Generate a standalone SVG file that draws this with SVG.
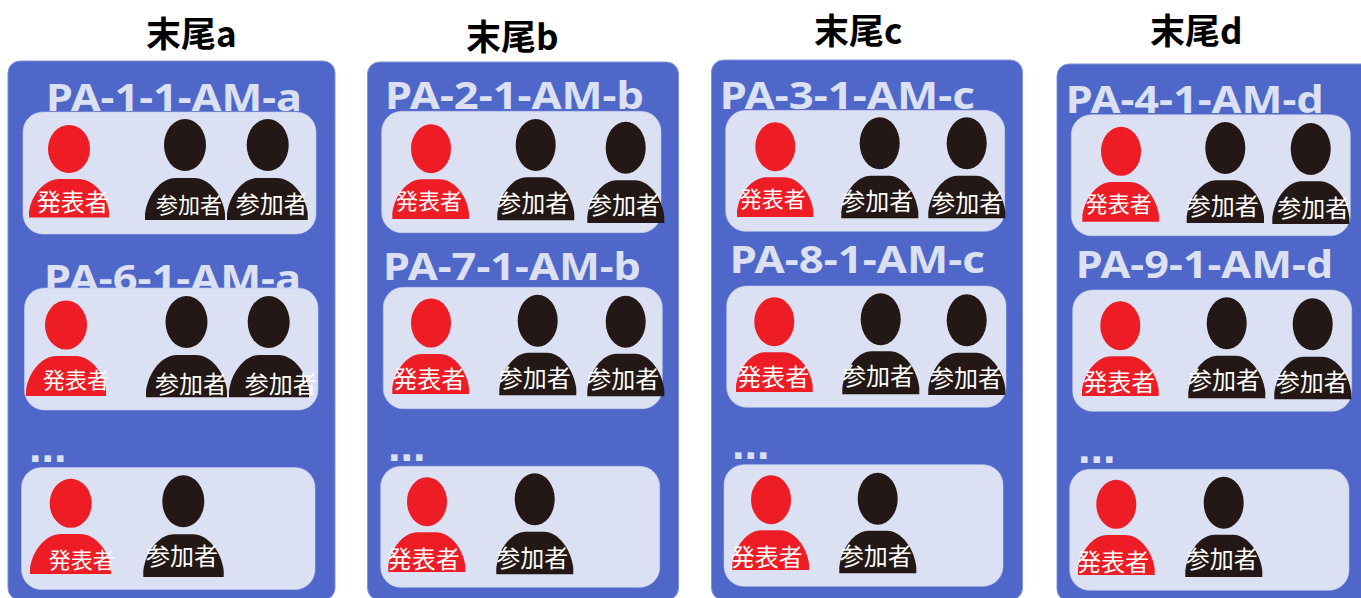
<svg xmlns="http://www.w3.org/2000/svg" width="1361" height="598" viewBox="0 0 1361 598">
<style>
.panel{fill:#4f67c8;stroke:#7f93d8;stroke-width:1}
.card{fill:#dbe0f3;stroke:#c3cdec;stroke-width:.6}
.title{font:700 35px "Noto Sans CJK JP","Noto Sans",sans-serif;fill:#000}
.label{font:700 38px "Noto Sans","Noto Sans CJK JP",sans-serif;fill:#dbe0f3}
.dots{font:700 45px "Liberation Sans",sans-serif;fill:#dbe0f3}
.r{fill:#ee1c25}
.k{fill:#231815}
.t{font:400 24px "Noto Sans CJK JP",sans-serif;fill:#fff;text-anchor:middle}
.s{font-size:22px}
</style>
<defs>
<path id="body" d="M0 100V85C3 40 20 0 38 0H62C80 0 97 40 100 85V100Z"/>
</defs>
<g id="col-a">
<text class="title" x="146" y="47">末尾a</text>
<rect class="panel" x="8" y="61" width="327" height="539" rx="12"/>
<text class="label" x="46" y="111" textLength="256" lengthAdjust="spacingAndGlyphs">PA-1-1-AM-a</text>
<text class="label" x="44" y="292" textLength="257" lengthAdjust="spacingAndGlyphs">PA-6-1-AM-a</text>
<text class="dots" x="29" y="462">...</text>
<rect class="card" x="23" y="112" width="293" height="122" rx="20"/>
<rect class="card" x="24.5" y="288" width="293.5" height="122" rx="20"/>
<rect class="card" x="21.5" y="467.5" width="293.5" height="122" rx="20"/>
<g id="a1-r" class="r"><ellipse cx="69" cy="149" rx="21" ry="24"/><use href="#body" transform="translate(29 179) scale(.8 .385)"/><text class="t" x="72.7" y="211">発表者</text></g>
<g id="a1-k1" class="k"><ellipse cx="185" cy="145" rx="21" ry="26"/><use href="#body" transform="translate(145 178) scale(.8 .42)"/><text class="t s" x="189" y="213">参加者</text></g>
<g id="a1-k2" class="k"><ellipse cx="267.7" cy="145" rx="21" ry="26"/><use href="#body" transform="translate(227 178) scale(.807 .42)"/><text class="t" x="271.7" y="213">参加者</text></g>
<g id="a2-r" class="r"><ellipse cx="66" cy="325" rx="21" ry="24.5"/><use href="#body" transform="translate(26 356) scale(.8 .4)"/><text class="t s" x="76" y="388">発表者</text></g>
<g id="a2-k1" class="k"><ellipse cx="186.5" cy="322" rx="21" ry="26"/><use href="#body" transform="translate(146 355) scale(.81 .423)"/><text class="t" x="191" y="393">参加者</text></g>
<g id="a2-k2" class="k"><ellipse cx="268.7" cy="322" rx="21" ry="26"/><use href="#body" transform="translate(229 355) scale(.8 .423)"/><text class="t" x="280.7" y="393">参加者</text></g>
<g id="a3-r" class="r"><ellipse cx="70.7" cy="503.3" rx="21" ry="24.5"/><use href="#body" transform="translate(30 534) scale(.81 .4)"/><text class="t s" x="81.7" y="568">発表者</text></g>
<g id="a3-k" class="k"><ellipse cx="183.3" cy="501.3" rx="21" ry="26"/><use href="#body" transform="translate(143.3 534.3) scale(.804 .427)"/><text class="t" x="182" y="564.5">参加者</text></g>
</g>
<g id="col-b">
<text class="title" x="466" y="50">末尾b</text>
<rect class="panel" x="367.5" y="62" width="311" height="538" rx="12"/>
<text class="label" x="385" y="109" textLength="259" lengthAdjust="spacingAndGlyphs">PA-2-1-AM-b</text>
<text class="label" x="383" y="280" textLength="258" lengthAdjust="spacingAndGlyphs">PA-7-1-AM-b</text>
<text class="dots" x="388" y="461">...</text>
<rect class="card" x="381.7" y="111.3" width="279.3" height="121.4" rx="20"/>
<rect class="card" x="383.3" y="287.3" width="279" height="121.4" rx="20"/>
<rect class="card" x="380.7" y="466.3" width="279" height="121" rx="20"/>
<g id="b1-r" class="r"><ellipse cx="431" cy="148.7" rx="20" ry="24.5"/><use href="#body" transform="translate(392.3 179.3) scale(.767 .397)"/><text class="t s" x="429" y="209">発表者</text></g>
<g id="b1-k1" class="k"><ellipse cx="535.7" cy="145" rx="20" ry="26"/><use href="#body" transform="translate(497.3 177.3) scale(.77 .43)"/><text class="t" x="533.3" y="211.7">参加者</text></g>
<g id="b1-k2" class="k"><ellipse cx="625.7" cy="147.7" rx="20" ry="26"/><use href="#body" transform="translate(587.3 180.3) scale(.77 .427)"/><text class="t" x="624" y="214">参加者</text></g>
<g id="b2-r" class="r"><ellipse cx="431" cy="323" rx="20" ry="24.5"/><use href="#body" transform="translate(392.3 354) scale(.767 .4)"/><text class="t" x="429.3" y="388">発表者</text></g>
<g id="b2-k1" class="k"><ellipse cx="537.7" cy="320.7" rx="20" ry="26"/><use href="#body" transform="translate(499.3 352.7) scale(.77 .426)"/><text class="t" x="534.7" y="387.3">参加者</text></g>
<g id="b2-k2" class="k"><ellipse cx="625.7" cy="321.7" rx="20" ry="26"/><use href="#body" transform="translate(587.3 353.7) scale(.77 .426)"/><text class="t" x="623.3" y="388">参加者</text></g>
<g id="b3-r" class="r"><ellipse cx="427" cy="501.7" rx="20" ry="24.5"/><use href="#body" transform="translate(388.3 532.3) scale(.77 .397)"/><text class="t" x="423.7" y="567.7">発表者</text></g>
<g id="b3-k" class="k"><ellipse cx="534.7" cy="499.3" rx="20" ry="26"/><use href="#body" transform="translate(496.3 531.7) scale(.77 .426)"/><text class="t" x="532.3" y="567.3">参加者</text></g>
</g>
<g id="col-c">
<text class="title" x="814" y="44">末尾c</text>
<rect class="panel" x="711.5" y="60" width="311" height="540" rx="12"/>
<text class="label" x="719.7" y="108.7" textLength="255" lengthAdjust="spacingAndGlyphs">PA-3-1-AM-c</text>
<text class="label" x="729.7" y="273" textLength="255" lengthAdjust="spacingAndGlyphs">PA-8-1-AM-c</text>
<text class="dots" x="732" y="459">...</text>
<rect class="card" x="725.7" y="110.3" width="279" height="121" rx="20"/>
<rect class="card" x="726.7" y="286" width="279.3" height="121.3" rx="20"/>
<rect class="card" x="724" y="464.7" width="279" height="121.6" rx="20"/>
<g id="c1-r" class="r"><ellipse cx="775.3" cy="146.7" rx="20" ry="24.5"/><use href="#body" transform="translate(737 177.3) scale(.763 .397)"/><text class="t s" x="772.7" y="207.3">発表者</text></g>
<g id="c1-k1" class="k"><ellipse cx="879.7" cy="143.3" rx="20" ry="26"/><use href="#body" transform="translate(841.3 175.7) scale(.77 .426)"/><text class="t" x="877.3" y="210">参加者</text></g>
<g id="c1-k2" class="k"><ellipse cx="966.7" cy="143.3" rx="20" ry="26"/><use href="#body" transform="translate(928.3 175.7) scale(.77 .426)"/><text class="t" x="967.3" y="212.3">参加者</text></g>
<g id="c2-r" class="r"><ellipse cx="774.3" cy="321.7" rx="20" ry="24.5"/><use href="#body" transform="translate(736 352.3) scale(.767 .397)"/><text class="t" x="773.3" y="386">発表者</text></g>
<g id="c2-k1" class="k"><ellipse cx="880.7" cy="319.3" rx="20" ry="26"/><use href="#body" transform="translate(842.3 351.3) scale(.77 .43)"/><text class="t" x="878" y="385">参加者</text></g>
<g id="c2-k2" class="k"><ellipse cx="966.7" cy="320.3" rx="20" ry="26"/><use href="#body" transform="translate(928.3 352.7) scale(.77 .423)"/><text class="t" x="966" y="387.3">参加者</text></g>
<g id="c3-r" class="r"><ellipse cx="771" cy="499.7" rx="20" ry="24.5"/><use href="#body" transform="translate(732.3 530.3) scale(.767 .397)"/><text class="t" x="766.7" y="565.7">発表者</text></g>
<g id="c3-k" class="k"><ellipse cx="877.7" cy="498.7" rx="20" ry="26"/><use href="#body" transform="translate(839.3 530.7) scale(.77 .426)"/><text class="t" x="875.7" y="565">参加者</text></g>
</g>
<g id="col-d">
<text class="title" x="1150" y="44">末尾d</text>
<rect class="panel" x="1057" y="64" width="320" height="537" rx="12"/>
<text class="label" x="1065.7" y="113" textLength="258" lengthAdjust="spacingAndGlyphs">PA-4-1-AM-d</text>
<text class="label" x="1075.7" y="278" textLength="257.5" lengthAdjust="spacingAndGlyphs">PA-9-1-AM-d</text>
<text class="dots" x="1078" y="463">...</text>
<rect class="card" x="1071.3" y="114.7" width="279" height="121" rx="20"/>
<rect class="card" x="1072.7" y="290" width="279" height="121.3" rx="20"/>
<rect class="card" x="1069.7" y="469.3" width="279.3" height="121" rx="20"/>
<g id="d1-r" class="r"><ellipse cx="1121" cy="151.3" rx="20" ry="24.5"/><use href="#body" transform="translate(1082.3 182) scale(.767 .397)"/><text class="t s" x="1118.7" y="212">発表者</text></g>
<g id="d1-k1" class="k"><ellipse cx="1225.3" cy="148" rx="20" ry="26"/><use href="#body" transform="translate(1186.7 180.3) scale(.773 .427)"/><text class="t" x="1222.7" y="215">参加者</text></g>
<g id="d1-k2" class="k"><ellipse cx="1310.7" cy="149" rx="20" ry="26"/><use href="#body" transform="translate(1272.3 181.3) scale(.77 .427)"/><text class="t" x="1313.3" y="217.3">参加者</text></g>
<g id="d2-r" class="r"><ellipse cx="1120.3" cy="325.7" rx="20" ry="24.5"/><use href="#body" transform="translate(1082 356.3) scale(.767 .397)"/><text class="t" x="1119.3" y="391">発表者</text></g>
<g id="d2-k1" class="k"><ellipse cx="1226.7" cy="323.3" rx="20" ry="26"/><use href="#body" transform="translate(1188.3 355.7) scale(.77 .426)"/><text class="t" x="1224" y="389.3">参加者</text></g>
<g id="d2-k2" class="k"><ellipse cx="1312.7" cy="324.3" rx="20" ry="26"/><use href="#body" transform="translate(1274.3 356.7) scale(.77 .426)"/><text class="t" x="1311.7" y="391">参加者</text></g>
<g id="d3-r" class="r"><ellipse cx="1116.3" cy="504.3" rx="20" ry="24.5"/><use href="#body" transform="translate(1078 535) scale(.767 .4)"/><text class="t" x="1113" y="570.7">発表者</text></g>
<g id="d3-k" class="k"><ellipse cx="1223.7" cy="502.7" rx="20" ry="26"/><use href="#body" transform="translate(1185.3 534.7) scale(.77 .423)"/><text class="t" x="1221.7" y="568.3">参加者</text></g>
</g>
</svg>
